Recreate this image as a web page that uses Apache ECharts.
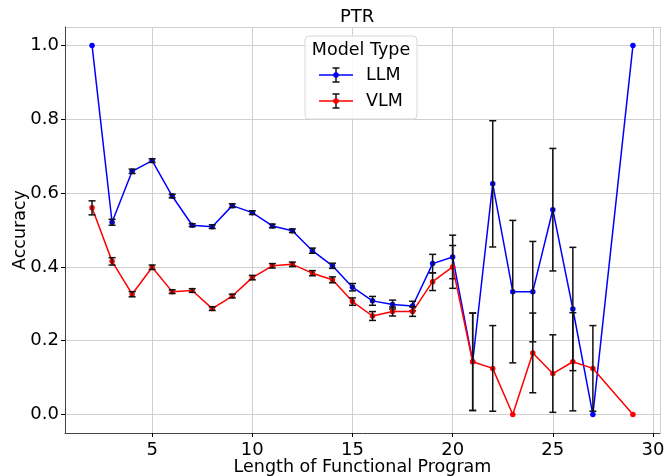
<!DOCTYPE html>
<html>
<head>
<meta charset="utf-8">
<script src="https://cdn.jsdelivr.net/npm/echarts@6/dist/echarts.min.js"></script>
<style>html,body{margin:0;padding:0;background:#fff}#c{width:671px;height:476px}</style>
</head>
<body>
<div id="c"></div>
<script>
const lengths = [2,3,4,5,6,7,8,9,10,11,12,13,14,15,16,17,18,19,20,21,22,23,24,25,26,27,29];
const llmAcc = [1.0,0.521,0.659,0.688,0.592,0.513,0.509,0.566,0.547,0.511,0.498,0.444,0.403,0.345,0.308,0.298,0.294,0.409,0.427,0.143,0.625,0.333,0.333,0.555,0.286,0.0,1.0];
const llmErr = [0,0.008,0.006,0.005,0.005,0.004,0.005,0.005,0.005,0.005,0.005,0.007,0.007,0.01,0.012,0.012,0.013,0.025,0.059,0.132,0.171,0.193,0.136,0.166,0.167,0,0];
const vlmAcc = [0.56,0.415,0.326,0.399,0.333,0.336,0.287,0.321,0.371,0.403,0.407,0.383,0.365,0.306,0.267,0.279,0.279,0.36,0.4,0.143,0.125,0.0,0.167,0.111,0.143,0.125,0.0];
const vlmErr = [0.019,0.01,0.007,0.006,0.005,0.005,0.005,0.005,0.006,0.006,0.006,0.007,0.008,0.01,0.012,0.012,0.013,0.024,0.058,0.132,0.116,0,0.108,0.105,0.133,0.116,0];
const yTicks = [0,0.2,0.4,0.6,0.8,1.0];

const FONT = 'DejaVu Sans';
const chart = echarts.init(document.getElementById('c'), null, {renderer:'canvas'});

function pts(acc){ return lengths.map((x,i)=>[x, acc[i]]); }
function errData(acc, err){ return lengths.map((x,i)=>[x, acc[i], err[i]]); }
function errRender(params, api){
  const x = api.value(0), y = api.value(1), e = api.value(2);
  if (!e) return null;
  const top = api.coord([x, y + e]);
  const bot = api.coord([x, y - e]);
  const cw = 3.5;
  const st = {stroke:'#111', lineWidth:1.5};
  return {type:'group', children:[
    {type:'line', shape:{x1:top[0],y1:top[1],x2:bot[0],y2:bot[1]}, style:st},
    {type:'line', shape:{x1:top[0]-cw,y1:top[1],x2:top[0]+cw,y2:top[1]}, style:st},
    {type:'line', shape:{x1:bot[0]-cw,y1:bot[1],x2:bot[0]+cw,y2:bot[1]}, style:st}
  ]};
}

function legendRow(y, color, label){
  const Z = 102;
  return [
    {type:'line', z:Z, shape:{x1:319,y1:y,x2:353,y2:y}, style:{stroke:color, lineWidth:1.5}},
    {type:'line', z:Z, shape:{x1:336,y1:y-7,x2:336,y2:y+7}, style:{stroke:'#111', lineWidth:1.5}},
    {type:'line', z:Z, shape:{x1:332.5,y1:y-7,x2:339.5,y2:y-7}, style:{stroke:'#111', lineWidth:1.5}},
    {type:'line', z:Z, shape:{x1:332.5,y1:y+7,x2:339.5,y2:y+7}, style:{stroke:'#111', lineWidth:1.5}},
    {type:'circle', z:Z+1, shape:{cx:336,cy:y,r:2.8}, style:{fill:color}},
    {type:'text', z:Z, x:366, y:y, style:{text:label, font:'17.5px "DejaVu Sans"', fill:'#000', textVerticalAlign:'middle'}}
  ];
}

const option = {
  animation:false,
  backgroundColor:'#fff',
  title:{text:'PTR', left:335, top:3, textStyle:{fontFamily:FONT, fontSize:18, fontWeight:'normal', color:'#000'}},
  grid:{left:65, right:11, top:27, bottom:43, containLabel:false, outerBoundsMode:'none'},
  xAxis:{
    type:'value', min:0.65, max:30.35, splitNumber:6,
    name:'Length of Functional Program', nameLocation:'middle', nameGap:25, nameMoveOverlap:false,
    nameTextStyle:{fontFamily:FONT, fontSize:17.5, color:'#000', verticalAlign:'top'},
    axisLine:{show:true, onZero:false, lineStyle:{color:'#444', width:1}},
    axisTick:{show:true, length:4, inside:false, lineStyle:{color:'#000'}},
    axisLabel:{fontFamily:FONT, fontSize:18, color:'#000', showMinLabel:false, showMaxLabel:false, margin:8},
    splitLine:{show:true, lineStyle:{color:'#cfcfcf', width:1}}
  },
  yAxis:{
    type:'value', min:-0.05, max:1.05, splitNumber:5,
    name:'Accuracy', nameLocation:'middle', nameGap:36, nameRotate:90, nameMoveOverlap:false,
    nameTextStyle:{fontFamily:FONT, fontSize:17.5, color:'#000', verticalAlign:'bottom'},
    axisLine:{show:true, onZero:false, lineStyle:{color:'#444', width:1}},
    axisTick:{show:true, length:4, lineStyle:{color:'#000'}},
    axisLabel:{fontFamily:FONT, fontSize:18, color:'#000', showMinLabel:false, showMaxLabel:false, margin:6,
      formatter:v=>{ return yTicks.some(t=>Math.abs(t-v)<1e-9) ? v.toFixed(1) : ''; }},
    splitLine:{show:true, lineStyle:{color:'#cfcfcf', width:1}}
  },
  graphic:[
    {type:'rect', z:100, shape:{x:305,y:36,width:112,height:83,r:4}, style:{fill:'rgba(255,255,255,0.85)', stroke:'#d8d8d8', lineWidth:1}},
    {type:'text', z:102, x:361, y:50, style:{text:'Model Type', font:'17.5px "DejaVu Sans"', fill:'#000', textAlign:'center', textVerticalAlign:'middle'}}
  ].concat(legendRow(75,'#0000ff','LLM')).concat(legendRow(101,'#ff0000','VLM')),
  series:[
    {name:'LLM', type:'line', data:pts(llmAcc), symbol:'circle', symbolSize:5.5, itemStyle:{color:'#0000ff'}, lineStyle:{color:'#0000ff', width:1.5}, z:3},
    {name:'LLM err', type:'custom', data:errData(llmAcc, llmErr), renderItem:errRender, encode:{x:0,y:1}, z:4},
    {name:'VLM', type:'line', data:pts(vlmAcc), symbol:'circle', symbolSize:5.5, itemStyle:{color:'#ff0000'}, lineStyle:{color:'#ff0000', width:1.5}, z:5},
    {name:'VLM err', type:'custom', data:errData(vlmAcc, vlmErr), renderItem:errRender, encode:{x:0,y:1}, z:6}
  ]
};
chart.setOption(option);
</script>
</body>
</html>
